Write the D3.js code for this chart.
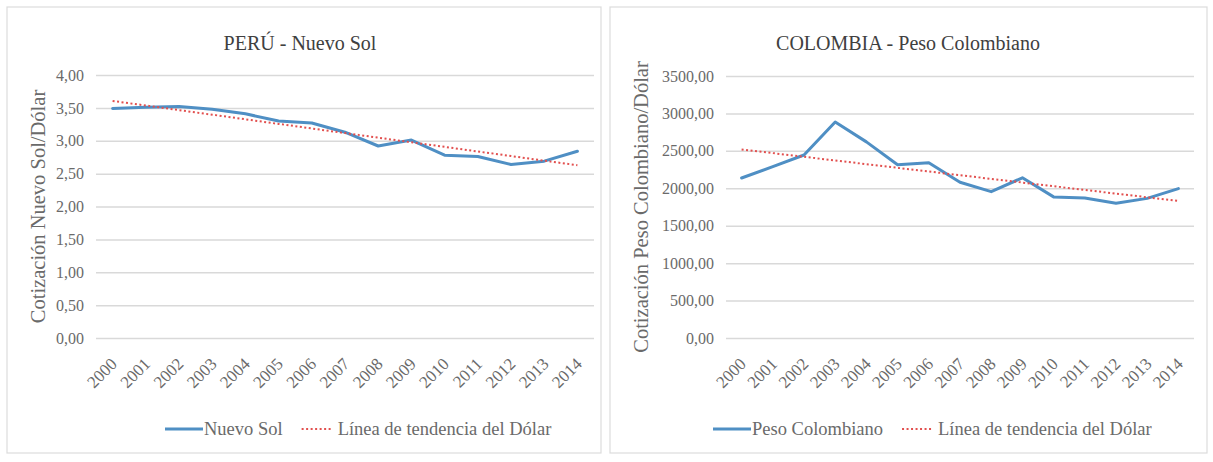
<!DOCTYPE html>
<html>
<head>
<meta charset="utf-8">
<script src="https://cdn.jsdelivr.net/npm/d3@7"></script>
<style>
  html, body { margin: 0; padding: 0; background: #ffffff; }
  svg { display: block; }
  text { font-family: "Liberation Serif", "Times New Roman", serif; }
</style>
</head>
<body>
<svg id="chart" width="1213" height="462"></svg>
<script>
// Years shared by both panels
const years = ["2000","2001","2002","2003","2004","2005","2006","2007","2008","2009","2010","2011","2012","2013","2014"];

// Perú: Nuevo Sol per dollar
const solValues = [3.49, 3.51, 3.52, 3.48, 3.41, 3.30, 3.27, 3.13, 2.92, 3.01, 2.78, 2.76, 2.64, 2.69, 2.84];
const solTicks = [0, 0.5, 1, 1.5, 2, 2.5, 3, 3.5, 4];

// Colombia: Peso Colombiano per dollar
const copValues = [2137, 2290, 2445, 2885, 2620, 2315, 2340, 2080, 1955, 2140, 1885, 1870, 1800, 1865, 1995];
const copTicks = [0, 500, 1000, 1500, 2000, 2500, 3000, 3500];

const panels = [
  {
    title: "PERÚ - Nuevo Sol",
    axisTitle: "Cotización Nuevo Sol/Dólar",
    seriesName: "Nuevo Sol",
    values: solValues,
    ticks: solTicks,
    yMax: 4,
    frame: [7, 7, 601, 453],
    plot: { x0: 96, x1: 594, y0: 75, y1: 338 },
    titleX: 300,
    axisTitleX: 38,
    legendX: 165
  },
  {
    title: "COLOMBIA - Peso Colombiano",
    axisTitle: "Cotización Peso Colombiano/Dólar",
    seriesName: "Peso Colombiano",
    values: copValues,
    ticks: copTicks,
    yMax: 3500,
    frame: [610, 7, 1207, 453],
    plot: { x0: 726, x1: 1194, y0: 76, y1: 338 },
    titleX: 908,
    axisTitleX: 641,
    legendX: 713
  }
];

const locale = d3.formatLocale({ decimal: ",", thousands: "", grouping: [3], currency: ["", ""] });
const fmt = locale.format(".2f");

const svg = d3.select("#chart");
const lineColor = "#4f8fc4";
const trendColor = "#e2504f";
const gridColor = "#d9d9d9";
const textColor = "#6a6a6a";
const serif = "'Liberation Serif', 'Times New Roman', serif";

// Least-squares trend line over the year index
function linearFit(vals) {
  const n = vals.length;
  const mx = (n - 1) / 2;
  const my = d3.mean(vals);
  let sxy = 0, sxx = 0;
  vals.forEach((v, i) => { sxy += (i - mx) * (v - my); sxx += (i - mx) * (i - mx); });
  const slope = sxy / sxx;
  return vals.map((_, i) => my + slope * (i - mx));
}

panels.forEach(p => {
  const g = svg.append("g");

  // chart frame
  g.append("rect")
    .attr("x", p.frame[0]).attr("y", p.frame[1])
    .attr("width", p.frame[2] - p.frame[0]).attr("height", p.frame[3] - p.frame[1])
    .attr("fill", "#ffffff").attr("stroke", "#dcdcdc").attr("stroke-width", 1.2);

  const x = d3.scalePoint().domain(years).range([p.plot.x0, p.plot.x1]).padding(0.5);
  const y = d3.scaleLinear().domain([0, p.yMax]).range([p.plot.y1, p.plot.y0]);

  // gridlines + value labels
  const yAxis = d3.axisLeft(y).tickValues(p.ticks).tickFormat(fmt)
    .tickSize(-(p.plot.x1 - p.plot.x0)).tickPadding(12);
  const ya = g.append("g").attr("transform", `translate(${p.plot.x0},0)`).call(yAxis);
  ya.select(".domain").remove();
  ya.selectAll(".tick line").attr("stroke", gridColor).attr("stroke-width", 1.5);
  ya.selectAll(".tick text")
    .attr("fill", textColor).style("font-size", "16px")
    .style("font-family", serif);

  // year labels, slanted
  const xAxis = d3.axisBottom(x).tickSize(0).tickPadding(0);
  const xa = g.append("g").attr("transform", `translate(0,${p.plot.y1})`).call(xAxis);
  xa.select(".domain").remove();
  xa.selectAll(".tick text")
    .attr("fill", textColor).style("font-size", "17px")
    .style("font-family", serif)
    .attr("text-anchor", "end")
    .attr("dy", null).attr("y", 0)
    .attr("transform", "translate(5,27) rotate(-45)");

  // title
  g.append("text")
    .attr("x", p.titleX).attr("y", 50)
    .attr("text-anchor", "middle")
    .attr("fill", "#404040")
    .style("font-size", "20px")
    .text(p.title);

  // axis title
  g.append("text")
    .attr("transform", `translate(${p.axisTitleX + 7},${(p.plot.y0 + p.plot.y1) / 2}) rotate(-90)`)
    .attr("text-anchor", "middle")
    .attr("fill", textColor)
    .style("font-size", "20.5px")
    .text(p.axisTitle);

  const lineGen = d3.line().x((d, i) => x(years[i])).y(d => y(d));

  // series line
  g.append("path")
    .datum(p.values)
    .attr("d", lineGen)
    .attr("fill", "none")
    .attr("stroke", lineColor)
    .attr("stroke-width", 3)
    .attr("stroke-linejoin", "round")
    .attr("stroke-linecap", "round");

  // trend line
  g.append("path")
    .datum(linearFit(p.values))
    .attr("d", lineGen)
    .attr("fill", "none")
    .attr("stroke", trendColor)
    .attr("stroke-width", 2)
    .attr("stroke-dasharray", "2,2.5");

  // legend
  const ly = 429;
  const lg = g.append("g");
  let cx = p.legendX;
  lg.append("line")
    .attr("x1", cx).attr("x2", cx + 38).attr("y1", ly).attr("y2", ly)
    .attr("stroke", lineColor).attr("stroke-width", 3);
  cx += 39;
  const t1 = lg.append("text")
    .attr("x", cx).attr("y", ly + 6)
    .attr("fill", textColor).style("font-size", "18.5px")
    .text(p.seriesName);
  cx += t1.node().getComputedTextLength() + 19;
  lg.append("line")
    .attr("x1", cx).attr("x2", cx + 30).attr("y1", ly).attr("y2", ly)
    .attr("stroke", trendColor).attr("stroke-width", 2).attr("stroke-dasharray", "2,2.5");
  cx += 36;
  lg.append("text")
    .attr("x", cx).attr("y", ly + 6)
    .attr("fill", textColor).style("font-size", "18.5px")
    .text("Línea de tendencia del Dólar");
});
</script>
</body>
</html>
